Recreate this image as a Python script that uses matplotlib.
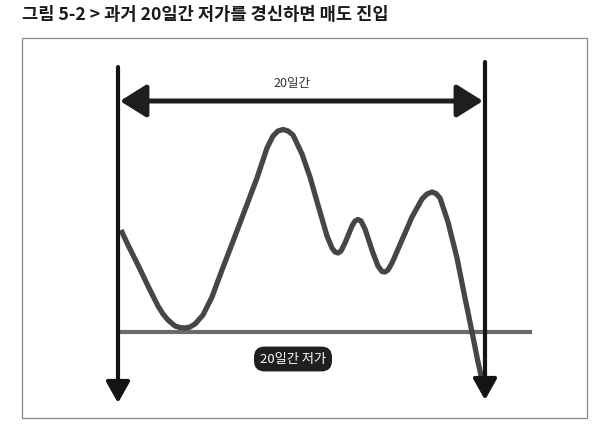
import matplotlib
matplotlib.use("Agg")
import matplotlib.pyplot as plt
from matplotlib.patches import FancyArrowPatch, Rectangle

plt.rcParams['font.family'] = ['Noto Sans CJK KR', 'DejaVu Sans']

# Text
title = "그림 5-2 > 과거 20일간 저가를 경신하면 매도 진입"
period_label = "20일간"
low_label = "20일간 저가"

# Price curve (pixel coordinates, y downward)
price_x = [121, 128, 138, 148, 158, 163, 168, 175, 180, 185, 190, 195, 203, 212,
           222, 232, 243, 257, 267, 273, 278, 283, 288, 293, 302, 310, 318, 327,
           332, 335, 338, 341, 345, 352, 355, 358, 361, 365, 373, 378, 382, 385,
           388, 392, 402, 412, 422, 427, 432, 436, 440, 448, 457, 465, 472, 478,
           482]
price_y = [230, 245, 265, 286, 306, 314, 320, 326, 327.5, 328, 327, 324, 315, 297,
           270, 244, 215, 178, 148, 136, 131, 129.5, 131, 135, 154, 177, 205, 236,
           248, 252, 253, 251, 243, 226, 221, 219.5, 221, 229, 253, 266, 271.5, 272,
           270, 263, 240, 217, 199, 194, 192, 193.5, 198, 222, 258, 298, 332, 362,
           380]

# Reference levels (pixel coordinates)
low_level = [120, 532, 332]          # x start, x end, y
window_left = [118, 67, 403]         # x, y top, y tip
window_right = [485, 62, 400]
span_arrow = [120, 483, 101]         # x left, x right, y

fig = plt.figure(figsize=(6, 4.25), dpi=100)
ax = fig.add_axes([0, 0, 1, 1])
ax.set_xlim(0, 600)
ax.set_ylim(425, 0)
ax.axis('off')

# Frame
ax.add_patch(Rectangle((22, 38), 565, 380, fill=False, edgecolor='#8a8a8a', linewidth=0.9))

# Title
ax.text(22, 15, title, fontsize=12.7, fontweight='bold', color='#1a1a1a',
        ha='left', va='center')

# 20-day low line
ax.plot([low_level[0], low_level[1]], [low_level[2], low_level[2]],
        color='#6b6b6b', linewidth=3.0, solid_capstyle='butt', zorder=2)

# Price curve
ax.plot(price_x, price_y, color='#464646', linewidth=3.8,
        solid_joinstyle='round', solid_capstyle='butt', zorder=3)

# Vertical arrows
for xv, ytop, ytip in (window_left, window_right):
    ax.add_patch(FancyArrowPatch((xv, ytop), (xv, ytip),
                                 arrowstyle='-|>,head_length=0.8,head_width=0.45',
                                 mutation_scale=16, color='#141414',
                                 linewidth=3.0, shrinkA=0, shrinkB=0, zorder=4))

# Horizontal double arrow
ax.add_patch(FancyArrowPatch((span_arrow[0], span_arrow[2]), (span_arrow[1], span_arrow[2]),
                             arrowstyle='<|-|>,head_length=0.8,head_width=0.5',
                             mutation_scale=20, color='#1e1e1e',
                             linewidth=3.6, shrinkA=0, shrinkB=0, zorder=4))
ax.text(292, 83, period_label, fontsize=9, color='#333333', ha='center', va='center')

# Low label box
ax.text(293, 359, low_label, fontsize=9.5, color='white', ha='center', va='center',
        bbox=dict(boxstyle='round,pad=0.45,rounding_size=0.8', facecolor='#1f1f1f',
                  edgecolor='none'), zorder=5)

fig.savefig('out.png', dpi=100)
